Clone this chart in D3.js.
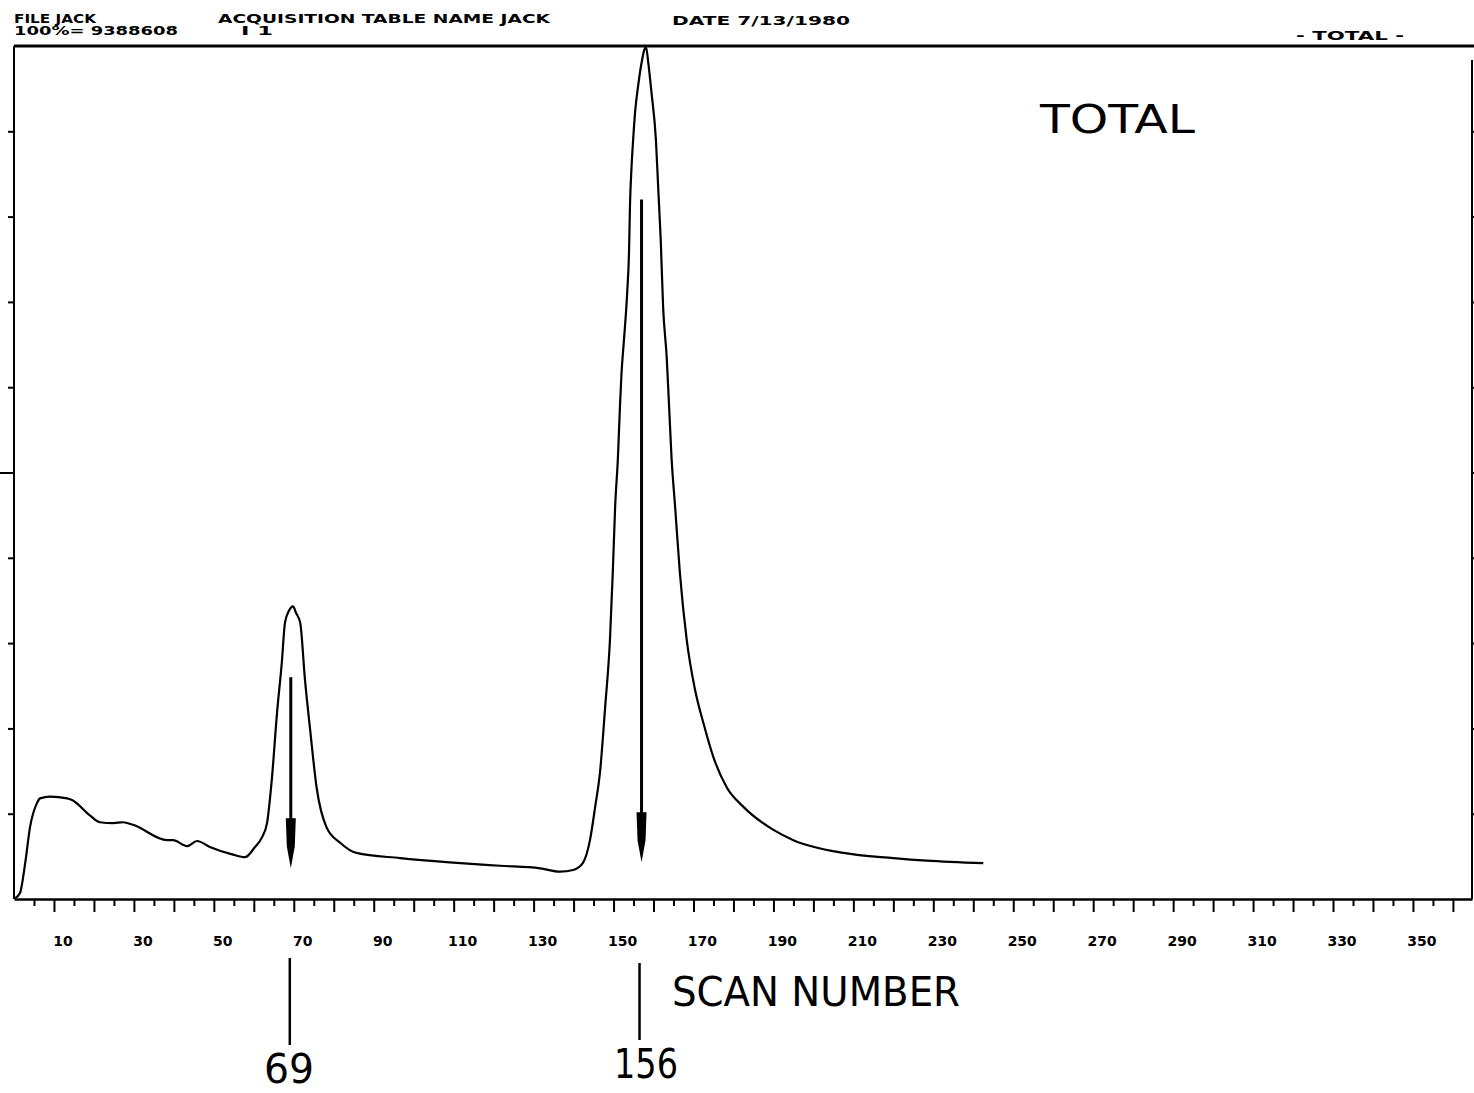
<!DOCTYPE html>
<html>
<head>
<meta charset="utf-8">
<script src="https://cdn.jsdelivr.net/npm/d3@7"></script>
<style>
  body { margin: 0; background: #fff; }
  text { fill: #000; }
  .hdr { font-family: "DejaVu Sans", sans-serif; font-weight: bold; font-size: 12px; }
  .tick-lbl { font-family: "DejaVu Sans", sans-serif; font-weight: bold; font-size: 14px; }
  .big { font-family: "DejaVu Sans", sans-serif; }
</style>
</head>
<body>
<script>
// scan number / % of total ion current
const scans = [0.3, 1.5, 2.8, 4.0, 5.8, 6.5, 9.0, 13.3, 14.5, 19.0,
  21.5, 24.8, 27.3, 29.8, 38.3, 39.8, 43.3, 45.8, 49.0, 54.8,
  57.8, 60.3, 62.0, 63.3, 64.5, 65.8, 67.0, 67.8, 68.8, 69.8,
  70.6, 71.6, 72.8, 74.1, 75.7, 78.2, 81.6, 85.7, 96.6, 109.0,
  121.6, 131.6, 136.6, 139.9, 142.3, 144.1, 145.4, 146.6, 147.9, 149.1,
  149.8, 150.4, 151.1, 151.6, 152.0, 152.6, 153.4, 153.9, 154.1, 154.5,
  154.9, 155.4, 156.2, 157.0, 158.1, 158.7, 159.5, 160.6, 161.2, 161.8,
  162.4, 163.3, 163.9, 164.5, 165.4, 166.6, 168.3, 170.4, 172.5, 175.0,
  178.3, 182.5, 190.0, 195.0, 207.5, 220.0, 228.3, 242.5];
const intensity = [0.1, 0.7, 4.2, 8.4, 11.3, 11.8, 12.0, 11.8, 11.6, 9.8,
  9.0, 8.9, 9.0, 8.7, 6.9, 6.9, 6.2, 6.8, 6.1, 5.2,
  4.9, 6.1, 7.2, 8.9, 14.0, 21.8, 27.7, 32.4, 33.8, 34.3,
  33.5, 32.4, 25.7, 19.8, 13.1, 8.4, 6.6, 5.4, 4.8, 4.3,
  3.9, 3.6, 3.2, 3.4, 4.2, 6.9, 10.8, 14.8, 22.5, 30.4,
  38.2, 46.0, 51.8, 57.7, 61.7, 65.5, 71.0, 76.4, 81.1, 85.8,
  89.0, 92.3, 95.5, 98.0, 99.9, 98.0, 94.5, 89.0, 83.1, 77.3,
  69.4, 63.5, 57.7, 51.8, 46.0, 38.2, 30.4, 24.5, 20.6, 16.6,
  13.1, 10.8, 8.1, 6.9, 5.4, 4.8, 4.5, 4.2];

const xTickLabels = [10, 30, 50, 70, 90, 110, 130, 150, 170, 190, 210, 230, 250, 270, 290, 310, 330, 350];
const peakScans = [69, 156];
const arrowTop = [26, 82];     // % where the marker arrow starts
const arrowTip = [3.6, 4.3];   // % where the arrow head ends

const W = 1474, H = 1093;
const mLeft = 14, mRight = 1472, mTop = 46, mBottom = 899;

const svg = d3.select("body").append("svg")
  .attr("width", W).attr("height", H);
svg.append("rect").attr("width", W).attr("height", H).attr("fill", "#fff");

const x = d3.scaleLinear().domain([0, (mRight - mLeft) / 3.997]).range([mLeft, mRight]);
const y = d3.scaleLinear().domain([0, 100]).range([mBottom, mTop]);

// header lines
const hdr = [
  ["FILE  JACK", 14, 23, 82],
  ["100%=  9388608", 14, 35, 164],
  ["ACQUISITION TABLE NAME  JACK", 218, 23, 332],
  ["I 1", 241, 35, 32],
  ["DATE  7/13/1980", 672, 25, 178],
  ["- TOTAL -", 1296, 40, 108]
];
svg.selectAll(".hdr").data(hdr).enter().append("text")
  .attr("class", "hdr")
  .attr("x", d => d[1]).attr("y", d => d[2])
  .attr("textLength", d => d[3]).attr("lengthAdjust", "spacingAndGlyphs")
  .text(d => d[0]);

// frame
svg.append("line").attr("x1", mLeft).attr("x2", W).attr("y1", mTop).attr("y2", mTop)
  .attr("stroke", "#000").attr("stroke-width", 3);
svg.append("line").attr("x1", mLeft).attr("x2", mLeft).attr("y1", mTop).attr("y2", mBottom)
  .attr("stroke", "#000").attr("stroke-width", 2);
svg.append("line").attr("x1", mRight).attr("x2", mRight).attr("y1", mTop + 14).attr("y2", mBottom)
  .attr("stroke", "#000").attr("stroke-width", 2);

// x axis: long ticks every 10 scans, short every 5
const xAxis = d3.axisBottom(x).tickValues(d3.range(5, 365, 5))
  .tickSize(0).tickFormat("");
const gx = svg.append("g").attr("transform", `translate(0,${mBottom})`).call(xAxis);
gx.select(".domain").attr("stroke-width", 2.5);
gx.selectAll(".tick line")
  .attr("y2", d => d % 10 === 0 ? 13 : 7)
  .attr("stroke-width", 2);

svg.selectAll(".tick-lbl").data(xTickLabels).enter().append("text")
  .attr("class", "tick-lbl")
  .attr("x", d => x(d) + 9).attr("y", 946)
  .attr("text-anchor", "middle")
  .text(d => d);

// y ticks on both sides (10 % steps)
const yTicks = d3.range(10, 100, 10);
const yl = d3.axisLeft(y).tickValues(yTicks).tickSize(0).tickFormat("");
const gyl = svg.append("g").attr("transform", `translate(${mLeft},0)`).call(yl);
gyl.select(".domain").remove();
gyl.selectAll(".tick line").attr("x2", d => d === 50 ? -14 : -6).attr("stroke-width", 2);

const yr = d3.axisRight(y).tickValues(yTicks).tickSize(4).tickFormat("");
const gyr = svg.append("g").attr("transform", `translate(${mRight},0)`).call(yr);
gyr.select(".domain").remove();
gyr.selectAll(".tick line").attr("stroke-width", 2);

// the trace
const pts = scans.map((s, i) => [s, intensity[i]]);
const line = d3.line().x(d => x(d[0])).y(d => y(d[1])).curve(d3.curveMonotoneX);
svg.append("path").datum(pts)
  .attr("d", line)
  .attr("fill", "none").attr("stroke", "#000").attr("stroke-width", 2.2)
  .attr("stroke-linejoin", "round");

// peak markers inside the plot
peakScans.forEach((s, i) => {
  const px = x(s) + (i === 1 ? 4 : 1);
  const y0 = y(arrowTop[i]), y1 = y(arrowTip[i]);
  svg.append("line").attr("x1", px).attr("x2", px).attr("y1", y0).attr("y2", y1 - 20)
    .attr("stroke", "#000").attr("stroke-width", 3);
  svg.append("path")
    .attr("d", `M${px - 5},${y1 - 50} L${px + 5},${y1 - 50} L${px + 4},${y1 - 22} L${px},${y1} L${px - 4},${y1 - 22} Z`)
    .attr("fill", "#000");
});

// markers below the axis with scan numbers
peakScans.forEach((s, i) => {
  const px = x(s) + (i === 1 ? 2 : 0);
  svg.append("line").attr("x1", px).attr("x2", px)
    .attr("y1", i === 0 ? 958 : 963).attr("y2", i === 0 ? 1045 : 1040)
    .attr("stroke", "#000").attr("stroke-width", 2.5);
  svg.append("text").attr("class", "big")
    .attr("x", i === 0 ? 289 : 646).attr("y", i === 0 ? 1083 : 1078)
    .attr("text-anchor", "middle")
    .attr("font-size", 40)
    .attr("textLength", i === 0 ? 50 : 64).attr("lengthAdjust", "spacingAndGlyphs")
    .text(s);
});

svg.append("text").attr("class", "big")
  .attr("x", 1040).attr("y", 133).attr("font-size", 39)
  .attr("textLength", 155).attr("lengthAdjust", "spacingAndGlyphs")
  .text("TOTAL");

svg.append("text").attr("class", "big")
  .attr("x", 672).attr("y", 1006).attr("font-size", 41)
  .attr("textLength", 288).attr("lengthAdjust", "spacingAndGlyphs")
  .text("SCAN NUMBER");
</script>
</body>
</html>
